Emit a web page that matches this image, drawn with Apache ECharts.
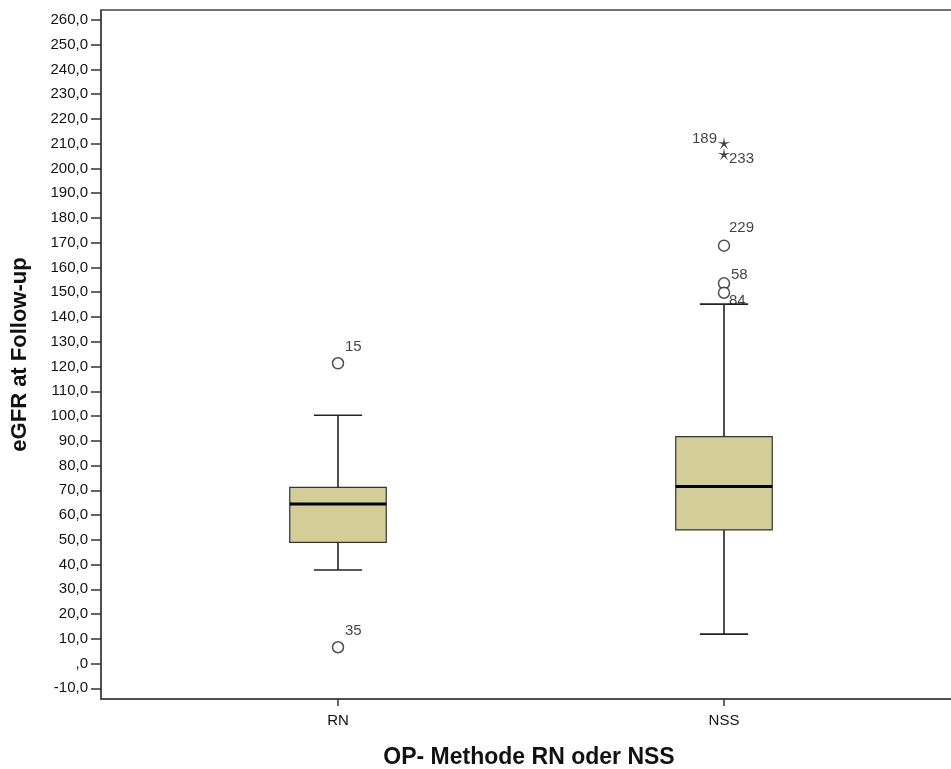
<!DOCTYPE html>
<html>
<head>
<meta charset="utf-8">
<script src="https://cdn.jsdelivr.net/npm/echarts@6/dist/echarts.min.js"></script>
<style>html,body{margin:0;padding:0;background:#fff}#c{width:951px;height:769px}</style>
</head>
<body>
<div id="c"></div>
<script>
// ---- data ----
const categories = ['RN', 'NSS'];
const whiskerLow = [37.8, 11.9];
const q1 = [49.0, 54.0];
const median = [64.5, 71.5];
const q3 = [71.2, 91.7];
const whiskerHigh = [100.3, 145.2];

const outlierGroup = ['RN', 'RN', 'NSS', 'NSS', 'NSS'];
const outlierValue = [121.3, 6.6, 168.8, 153.6, 149.8];
const outlierCase = ['15', '35', '229', '58', '84'];

const extremeGroup = ['NSS', 'NSS'];
const extremeValue = [210.2, 205.8];
const extremeCase = ['189', '233'];

const yTicks = [-10, 0, 10, 20, 30, 40, 50, 60, 70, 80, 90, 100, 110, 120, 130, 140, 150, 160, 170, 180, 190, 200, 210, 220, 230, 240, 250, 260];

// ---- styling / layout ----
const FONT = '"Liberation Sans", Arial, sans-serif';
const Y_MIN = -14.3, Y_MAX = 264.0;
const labelPlace = {
  '15': ['left', 7, -16], '35': ['left', 7, -16], '229': ['left', 5, -18],
  '58': ['left', 7, -8], '84': ['left', 5, 8], '189': ['right', -7, -4], '233': ['left', 5, 5]
};

function starPath() {
  let d = '';
  for (let k = 0; k < 10; k++) {
    const r = k % 2 === 0 ? 1 : 0.24;
    const a = (-90 + 36 * k) * Math.PI / 180;
    d += (k === 0 ? 'M' : 'L') + (r * Math.cos(a)).toFixed(3) + ' ' + (r * Math.sin(a)).toFixed(3) + ' ';
  }
  return 'path://' + d + 'Z';
}

function pointItem(group, value, id) {
  const p = labelPlace[id];
  return {
    value: [categories.indexOf(group), value, id],
    label: { align: p[0], offset: [p[1], p[2]] }
  };
}

const boxData = categories.map((c, i) => [i, whiskerLow[i], q1[i], median[i], q3[i], whiskerHigh[i]]);
const outlierData = outlierValue.map((v, i) => pointItem(outlierGroup[i], v, outlierCase[i]));
const extremeData = extremeValue.map((v, i) => pointItem(extremeGroup[i], v, extremeCase[i]));

const pointLabel = {
  show: true, position: 'inside', verticalAlign: 'middle',
  formatter: p => p.value[2], color: '#111', fontSize: 15, fontFamily: FONT
};

const chart = echarts.init(document.getElementById('c'), null, { renderer: 'canvas' });
chart.setOption({
  animation: false,
  backgroundColor: '#fff',
  grid: [
    { left: 101, top: 10, right: -6, bottom: 70, show: true, borderColor: '#444', borderWidth: 1.5,
      backgroundColor: 'transparent', containLabel: false, outerBoundsMode: 'none' },
    { left: 145, width: 772, top: 10, bottom: 70, containLabel: false, outerBoundsMode: 'none' }
  ],
  xAxis: [
    {
      gridIndex: 0, type: 'value', min: 0, max: 1,
      axisLine: { show: true, onZero: false, lineStyle: { color: '#444', width: 1.5 } },
      axisTick: { show: false }, axisLabel: { show: false }, splitLine: { show: false },
      name: 'OP- Methode RN oder NSS', nameLocation: 'middle', nameGap: 47,
      nameTextStyle: { fontFamily: FONT, fontSize: 23, fontWeight: 'bold', color: '#111', verticalAlign: 'top' }
    },
    {
      gridIndex: 1, type: 'category', data: categories, boundaryGap: true,
      axisLine: { show: false, onZero: false },
      axisTick: { show: true, alignWithLabel: true, length: 7, lineStyle: { color: '#333', width: 1.5 } },
      axisLabel: { margin: 14, fontFamily: FONT, fontSize: 15, color: '#111' },
      splitLine: { show: false }
    }
  ],
  yAxis: [
    {
      gridIndex: 0, type: 'value', min: Y_MIN, max: Y_MAX,
      axisLine: { show: true, onZero: false, lineStyle: { color: '#444', width: 1.5 } },
      axisTick: { show: true, length: 10, customValues: yTicks, lineStyle: { color: '#333', width: 1.5 } },
      axisLabel: {
        customValues: yTicks, margin: 13, fontFamily: FONT, fontSize: 15, color: '#111',
        formatter: v => (v === 0 ? ',0' : v.toFixed(1).replace('.', ','))
      },
      splitLine: { show: false },
      name: 'eGFR at Follow-up', nameLocation: 'middle', nameGap: 70,
      nameTextStyle: { fontFamily: FONT, fontSize: 22, fontWeight: 'bold', color: '#111' }
    },
    { gridIndex: 1, type: 'value', min: Y_MIN, max: Y_MAX, show: false }
  ],
  series: [
    {
      type: 'custom', xAxisIndex: 1, yAxisIndex: 1,
      data: boxData,
      encode: { x: 0, y: [1, 2, 3, 4, 5] },
      renderItem: function (params, api) {
        const ci = api.value(0);
        const band = api.size([1, 0])[0];
        const bw = band * 0.25, cw = bw / 2;
        const pLo = api.coord([ci, api.value(1)]);
        const pQ1 = api.coord([ci, api.value(2)]);
        const pMed = api.coord([ci, api.value(3)]);
        const pQ3 = api.coord([ci, api.value(4)]);
        const pHi = api.coord([ci, api.value(5)]);
        const cx = pLo[0];
        const ls = { stroke: '#222', lineWidth: 1.6 };
        return {
          type: 'group',
          children: [
            { type: 'line', shape: { x1: cx, y1: pQ3[1], x2: cx, y2: pHi[1] }, style: ls },
            { type: 'line', shape: { x1: cx, y1: pQ1[1], x2: cx, y2: pLo[1] }, style: ls },
            { type: 'line', shape: { x1: cx - cw / 2, y1: pHi[1], x2: cx + cw / 2, y2: pHi[1] }, style: ls },
            { type: 'line', shape: { x1: cx - cw / 2, y1: pLo[1], x2: cx + cw / 2, y2: pLo[1] }, style: ls },
            { type: 'rect', shape: { x: cx - bw / 2, y: pQ3[1], width: bw, height: pQ1[1] - pQ3[1] },
              style: { fill: '#d3ce98', stroke: '#333', lineWidth: 1.2 } },
            { type: 'line', shape: { x1: cx - bw / 2, y1: pMed[1], x2: cx + bw / 2, y2: pMed[1] },
              style: { stroke: '#000', lineWidth: 3 } }
          ]
        };
      }
    },
    {
      type: 'scatter', xAxisIndex: 1, yAxisIndex: 1,
      data: outlierData,
      symbol: 'circle', symbolSize: 11,
      itemStyle: { color: '#fff', borderColor: '#222', borderWidth: 1.5 },
      label: pointLabel
    },
    {
      type: 'scatter', xAxisIndex: 1, yAxisIndex: 1,
      data: extremeData,
      symbol: starPath(), symbolSize: 13, symbolKeepAspect: true,
      itemStyle: { color: '#111' },
      label: pointLabel
    }
  ]
});
</script>
</body>
</html>
